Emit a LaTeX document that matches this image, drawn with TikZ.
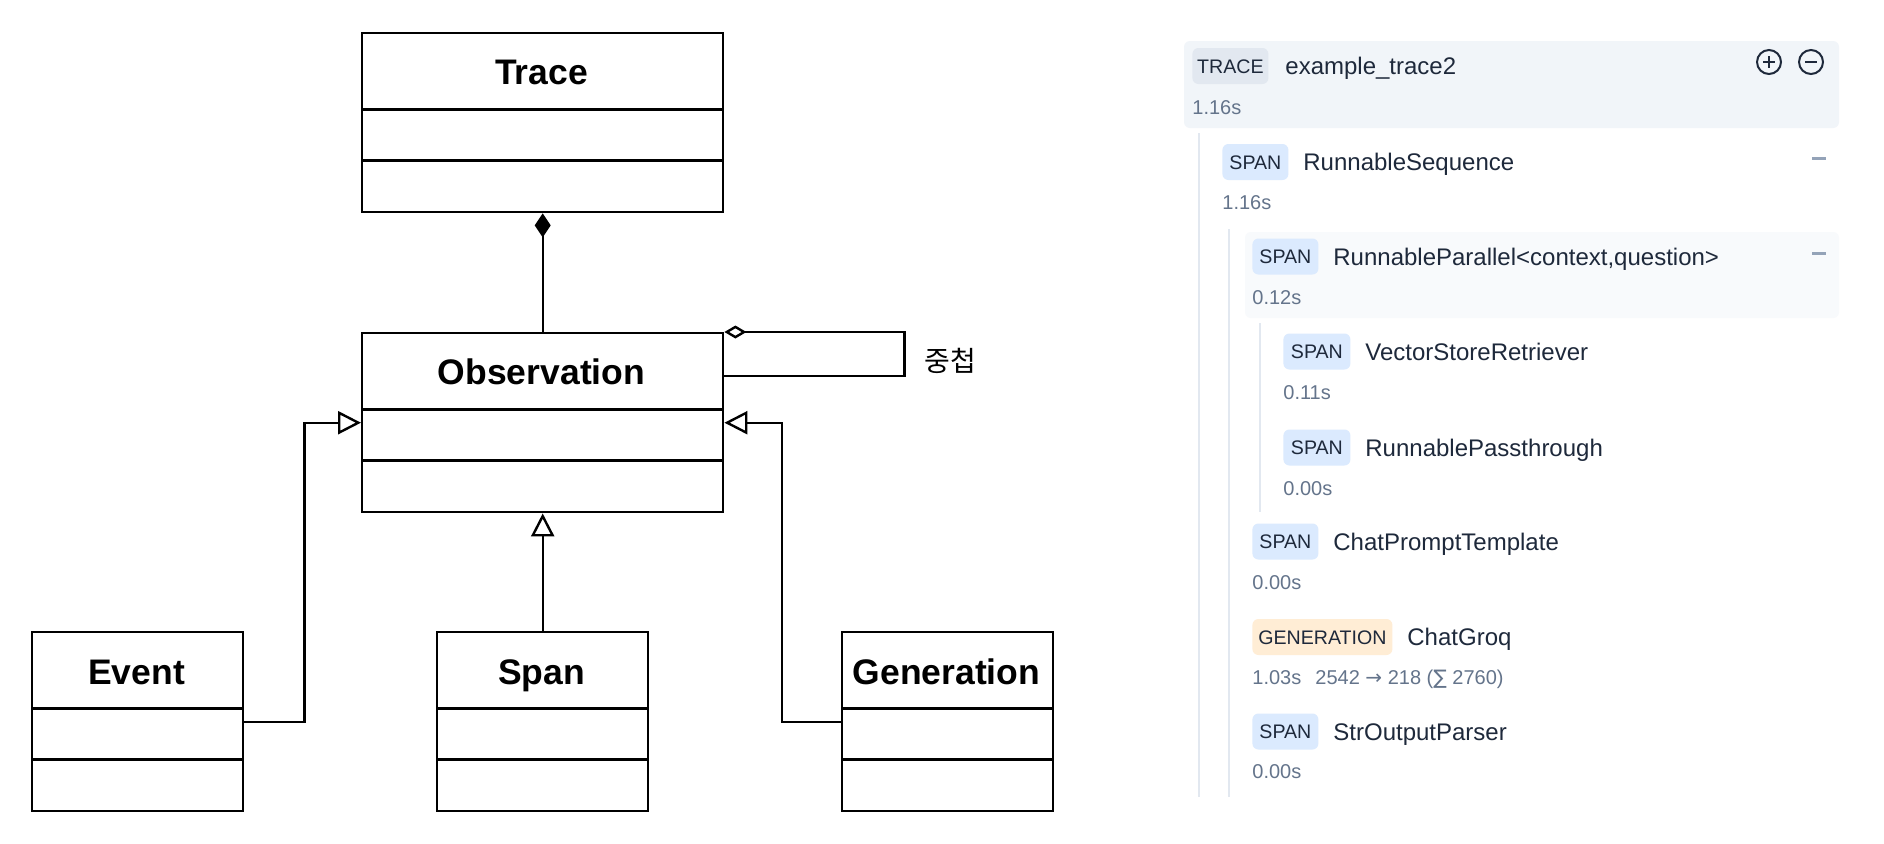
\documentclass[tikz,border=0pt]{standalone}
\usepackage{fontspec}
\setmainfont{Liberation Sans}
\newfontfamily\kofont{Noto Sans CJK KR}
\newfontfamily\symfont{DejaVu Sans}
\usetikzlibrary{arrows.meta,calc}
\definecolor{panelA}{HTML}{F1F5F9}
\definecolor{panelB}{HTML}{F8FAFC}
\definecolor{badgeTrace}{HTML}{E2E8F0}
\definecolor{badgeSpan}{HTML}{DBEAFE}
\definecolor{badgeGen}{HTML}{FFEDD5}
\definecolor{nameText}{HTML}{1E293B}
\definecolor{durText}{HTML}{64748B}
\definecolor{treeLine}{HTML}{E2E8F0}
\definecolor{iconGray}{HTML}{94A3B8}
\begin{document}
\begin{tikzpicture}[x=0.5pt,y=-0.5pt,
  umlbox/.style={draw, line width=1.2pt, inner sep=0pt, anchor=north west, minimum height=89.5pt},
  bigbox/.style={umlbox, minimum width=180.5pt},
  smallbox/.style={umlbox, minimum width=105.5pt},
  umlline/.style={line width=1.2pt},
  umltitle/.style={font=\fontsize{17.75}{20}\selectfont\bfseries, anchor=base, inner sep=0pt},
  compo/.style={umlline, -{Diamond[length=12pt,width=8pt]}},
  aggr/.style={umlline, -{Diamond[open,length=11pt,width=6.5pt,fill=white]}},
  inh/.style={umlline, -{Triangle[open,length=11.5pt,width=11.5pt,fill=white]}},
  badge/.style={rounded corners=3pt, anchor=west, minimum height=18pt, inner sep=0pt,
     text height=7pt, text depth=0pt, text=nameText, font=\fontsize{9.8}{11}\selectfont},
  itemname/.style={anchor=base west, inner sep=0pt, text=nameText, font=\fontsize{12}{14}\selectfont},
  dur/.style={anchor=base west, inner sep=0pt, text=durText, font=\fontsize{10}{12}\selectfont},
  tree/.style={treeLine, line width=1pt},
  minus/.style={iconGray, line width=1.5pt},
  icon/.style={nameText, line width=1pt}
]
\useasboundingbox (0,0) rectangle (1884,843);
\fill[white] (0,0) rectangle (1884,843);

% ---------------- UML diagram ----------------
\node[bigbox] (trace) at (361,32) {};
\node[bigbox] (obs) at (361,332) {};
\node[smallbox] (event) at (31,631) {};
\node[smallbox] (span) at (436,631) {};
\node[smallbox] (gen) at (841,631) {};

\foreach \b in {trace,obs,event,span,gen}{
  \draw[umlline] ($(\b.north west)+(0,77.5)$) -- ($(\b.north east)+(0,77.5)$);
  \draw[umlline] ($(\b.north west)+(0,128.5)$) -- ($(\b.north east)+(0,128.5)$);
}

\node[umltitle] (traceT) at (541.5,84) {Trace};
\node[umltitle] (obsT) at (541.5,384) {Observation};
\node[umltitle] (eventT) at (136.5,684) {Event};
\node[umltitle] (spanT) at (541.5,684) {Span};
\node[umltitle] (genT) at (946.5,684) {Generation};

\draw[compo] (obs.north) -- (trace.south);
\draw[aggr] ($(obs.north east)+(0,44)$) -- ++(180,0) |- (obs.north east);
\node[font=\kofont\fontsize{14}{16}\selectfont, inner sep=0pt] (nest) at (950,361) {중첩};
\draw[inh] (span.north) -- (obs.south);
\draw[inh] (event.east) -- ++(60,0) |- (obs.west);
\draw[inh] (gen.west) -- ++(-59,0) |- (obs.east);

% ---------------- Trace tree panel ----------------
\fill[panelA, rounded corners=3pt] (1184,41) rectangle (1839,128);
\fill[panelB, rounded corners=3pt] (1245,232) rectangle (1839,318);

\draw[tree] (1199,133) -- (1199,797);
\draw[tree] (1229,229) -- (1229,797);
\draw[tree] (1260,323) -- (1260,512);

% header icons
\draw[icon] (1769,62) circle[radius=6pt];
\draw[icon] (1763,62) -- (1775,62) (1769,56) -- (1769,68);
\draw[icon] (1811,62) circle[radius=6pt];
\draw[icon] (1805,62) -- (1817,62);
\draw[minus] (1812,158) -- (1826,158);
\draw[minus] (1812,253) -- (1826,253);

% rows
\node[badge, fill=badgeTrace, minimum width=38pt] (b1) at (1192,66) {TRACE};
\node[itemname] (n1) at (1285,74) {example\_trace2};
\node[dur] (d1) at (1192,114) {1.16s};

\node[badge, fill=badgeSpan, minimum width=33pt] (b2) at (1222,162) {SPAN};
\node[itemname] (n2) at (1303,170) {RunnableSequence};
\node[dur] (d2) at (1222,209) {1.16s};

\node[badge, fill=badgeSpan, minimum width=33pt] (b3) at (1252,256.5) {SPAN};
\node[itemname] (n3) at (1333,265) {RunnableParallel<context,question>};
\node[dur] (d3) at (1252,304) {0.12s};

\node[badge, fill=badgeSpan, minimum width=33.5pt] (b4) at (1283,351.5) {SPAN};
\node[itemname] (n4) at (1365,360) {VectorStoreRetriever};
\node[dur] (d4) at (1283,399) {0.11s};

\node[badge, fill=badgeSpan, minimum width=33.5pt] (b5) at (1283,447.5) {SPAN};
\node[itemname] (n5) at (1365,456) {RunnablePassthrough};
\node[dur] (d5) at (1283,495) {0.00s};

\node[badge, fill=badgeSpan, minimum width=33pt] (b6) at (1252,541.5) {SPAN};
\node[itemname] (n6) at (1333,550) {ChatPromptTemplate};
\node[dur] (d6) at (1252,589) {0.00s};

\node[badge, fill=badgeGen, minimum width=70pt] (b7) at (1252,637) {GENERATION};
\node[itemname] (n7) at (1407,645) {ChatGroq};
\node[dur] (d7) at (1252,684) {1.03s};
\node[dur] (t7) at (1315,684) {2542 {\symfont →} 218 ({\symfont ∑} 2760)};

\node[badge, fill=badgeSpan, minimum width=33pt] (b8) at (1252,731.5) {SPAN};
\node[itemname] (n8) at (1333,740) {StrOutputParser};
\node[dur] (d8) at (1252,778) {0.00s};
\end{tikzpicture}
\end{document}
